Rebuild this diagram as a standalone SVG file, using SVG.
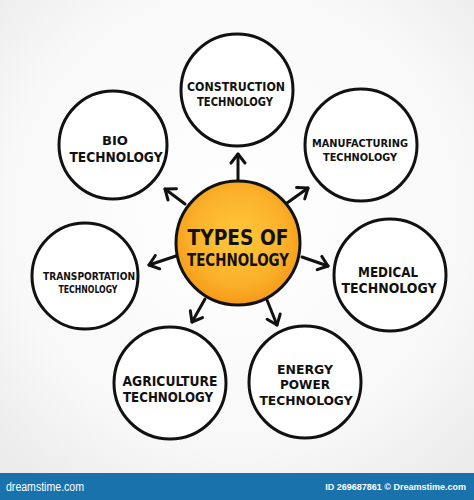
<svg xmlns="http://www.w3.org/2000/svg" width="474" height="500" viewBox="0 0 474 500">
<defs>
<radialGradient id="bg" cx="0.5" cy="0.45" r="0.7">
<stop offset="0" stop-color="#ffffff"/>
<stop offset="0.7" stop-color="#f8f8f8"/>
<stop offset="1" stop-color="#ececec"/>
</radialGradient>
<radialGradient id="orange" cx="0.5" cy="0.45" r="0.55">
<stop offset="0" stop-color="#ffc83a"/>
<stop offset="0.7" stop-color="#fbb02a"/>
<stop offset="1" stop-color="#f59a18"/>
</radialGradient>
<marker id="arr" viewBox="0 0 20 20" refX="14" refY="10" markerWidth="20" markerHeight="20" markerUnits="userSpaceOnUse" orient="auto">
<path d="M5,3 L14,10 L5,17" fill="none" stroke="#111" stroke-width="3" stroke-linecap="round" stroke-linejoin="round"/>
</marker>
</defs>
<style>
.node{fill:#fff;stroke:#111;stroke-width:3}
.lbl{font-family:"Liberation Sans Narrow","DejaVu Sans Condensed","Liberation Sans",sans-serif;font-weight:bold;fill:#111;text-anchor:middle}
.conn line{stroke:#111;stroke-width:3;stroke-linecap:round;marker-end:url(#arr)}
.foot{font-family:"Liberation Sans","DejaVu Sans",sans-serif;fill:#fff}
</style>
<rect x="0" y="0" width="474" height="473" fill="url(#bg)"/>
<g class="conn" id="connectors">
<line x1="238" y1="181" x2="238" y2="154"/>
<line x1="185" y1="204" x2="165" y2="189"/>
<line x1="287" y1="203" x2="308" y2="188"/>
<line x1="176" y1="256" x2="149" y2="265"/>
<line x1="302" y1="257" x2="328" y2="266"/>
<line x1="205" y1="299" x2="192" y2="322"/>
<line x1="267" y1="300" x2="277" y2="325"/>
</g>
<g id="center">
<circle cx="238" cy="243" r="62" fill="url(#orange)" stroke="#111" stroke-width="3"/>
<text class="lbl" x="238" y="245" font-size="22" textLength="101" lengthAdjust="spacingAndGlyphs">TYPES OF</text>
<text class="lbl" x="238" y="266" font-size="17" textLength="102" lengthAdjust="spacingAndGlyphs">TECHNOLOGY</text>
</g>
<g id="construction">
<circle class="node" cx="237" cy="90" r="56"/>
<text class="lbl" x="236" y="91" font-size="13" textLength="98" lengthAdjust="spacingAndGlyphs">CONSTRUCTION</text>
<text class="lbl" x="235" y="106" font-size="13" textLength="76" lengthAdjust="spacingAndGlyphs">TECHNOLOGY</text>
</g>
<g id="bio">
<circle class="node" cx="113" cy="145" r="54"/>
<text class="lbl" x="115" y="145" font-size="13" textLength="26" lengthAdjust="spacingAndGlyphs">BIO</text>
<text class="lbl" x="116" y="162" font-size="14" textLength="93" lengthAdjust="spacingAndGlyphs">TECHNOLOGY</text>
</g>
<g id="manufacturing">
<circle class="node" cx="361" cy="145" r="56"/>
<text class="lbl" x="360" y="147" font-size="11" textLength="96" lengthAdjust="spacingAndGlyphs">MANUFACTURING</text>
<text class="lbl" x="360" y="161" font-size="11" textLength="74" lengthAdjust="spacingAndGlyphs">TECHNOLOGY</text>
</g>
<g id="transportation">
<circle class="node" cx="85" cy="276" r="53"/>
<text class="lbl" x="89" y="280" font-size="11" textLength="92" lengthAdjust="spacingAndGlyphs">TRANSPORTATION</text>
<text class="lbl" x="88" y="293" font-size="11" textLength="59" lengthAdjust="spacingAndGlyphs">TECHNOLOGY</text>
</g>
<g id="medical">
<circle class="node" cx="390" cy="275" r="56"/>
<text class="lbl" x="388" y="277" font-size="14" textLength="60" lengthAdjust="spacingAndGlyphs">MEDICAL</text>
<text class="lbl" x="389" y="293" font-size="14" textLength="95" lengthAdjust="spacingAndGlyphs">TECHNOLOGY</text>
</g>
<g id="agriculture">
<circle class="node" cx="170" cy="383" r="56"/>
<text class="lbl" x="170" y="386" font-size="14" textLength="95" lengthAdjust="spacingAndGlyphs">AGRICULTURE</text>
<text class="lbl" x="168" y="402" font-size="14" textLength="90" lengthAdjust="spacingAndGlyphs">TECHNOLOGY</text>
</g>
<g id="energy">
<circle class="node" cx="305" cy="382" r="56"/>
<text class="lbl" x="305" y="374" font-size="13" textLength="56" lengthAdjust="spacingAndGlyphs">ENERGY</text>
<text class="lbl" x="305" y="389" font-size="13" textLength="50" lengthAdjust="spacingAndGlyphs">POWER</text>
<text class="lbl" x="306" y="405" font-size="13" textLength="93" lengthAdjust="spacingAndGlyphs">TECHNOLOGY</text>
</g>
<g id="footer">
<rect x="0" y="473" width="474" height="27" fill="#1a72ad"/>
<text class="foot" x="6" y="491" font-size="12" textLength="78" lengthAdjust="spacingAndGlyphs">dreamstime.com</text>
<text class="foot" x="466" y="490" font-size="9" font-weight="bold" text-anchor="end">ID 269687861 © Dreamstime.com</text>
</g>
</svg>
